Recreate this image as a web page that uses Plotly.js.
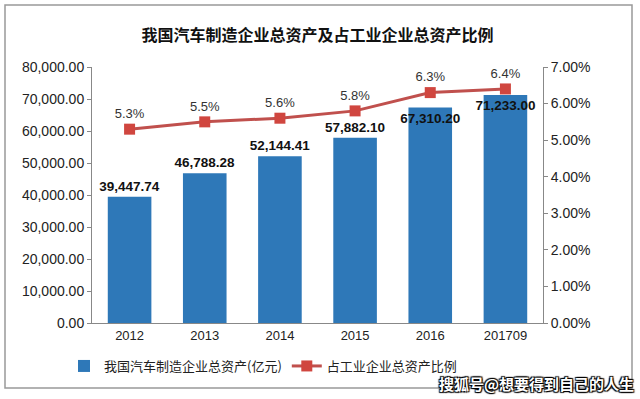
<!DOCTYPE html>
<html>
<head>
<meta charset="utf-8">
<script src="https://cdn.plot.ly/plotly-3.0.1.min.js"></script>
<style>
html,body{margin:0;padding:0;background:#fff;}
#chart{width:640px;height:399px;}
</style>
</head>
<body>
<div id="chart"></div>
<script>
const categories = ["2012", "2013", "2014", "2015", "2016", "201709"];
const totalAssets = [39447.74, 46788.28, 52144.41, 57882.10, 67310.20, 71233.00];
const shareOfIndustry = [0.053, 0.055, 0.056, 0.058, 0.063, 0.064];
const barName = "我国汽车制造企业总资产(亿元)";
const lineName = "占工业企业总资产比例";
const titleText = "我国汽车制造企业总资产及占工业企业总资产比例";
const watermark = "搜狐号@想要得到自己的人生";

const fmtNum = v => v.toLocaleString("en-US", {minimumFractionDigits: 2, maximumFractionDigits: 2});
const fmtPct = v => (v * 100).toFixed(1) + "%";

const font = "Liberation Sans, Arial, sans-serif";
const cjk = "Noto Sans CJK SC, sans-serif";

const L = 92, R = 97, T = 67, B = 76, W = 640, H = 399;
const pw = W - L - R, ph = H - T - B;
const px = x => (x - L) / pw;
const py = y => (H - B - y) / ph;

// last two bar labels sit just inside the bar top (as in the reference)
const barTextPos = ["outside", "outside", "outside", "outside", "inside", "inside"];

const traces = [
  {
    type: "bar",
    x: categories,
    y: totalAssets,
    name: barName,
    marker: {color: "#2E78B8"},
    text: totalAssets.map(fmtNum),
    textposition: barTextPos,
    textangle: 0,
    insidetextanchor: "end",
    constraintext: "none",
    textfont: {family: font, size: 13.5, color: "#111", weight: "bold"},
    insidetextfont: {family: font, size: 13.5, color: "#111", weight: "bold"},
    outsidetextfont: {family: font, size: 13.5, color: "#111", weight: "bold"},
    cliponaxis: false,
    hoverinfo: "skip"
  },
  {
    type: "scatter",
    mode: "lines+markers+text",
    x: categories,
    y: shareOfIndustry,
    yaxis: "y2",
    name: lineName,
    line: {color: "#C0504D", width: 3},
    marker: {symbol: "square", size: 11, color: "#D0463F"},
    text: shareOfIndustry.map(fmtPct),
    textposition: "top center",
    textfont: {family: font, size: 13, color: "#333"},
    cliponaxis: false,
    hoverinfo: "skip"
  }
];

const layout = {
  width: W, height: H,
  margin: {l: L, r: R, t: T, b: B},
  paper_bgcolor: "#fff",
  plot_bgcolor: "#fff",
  showlegend: true,
  bargap: 0.42,
  title: {
    text: titleText,
    font: {family: cjk, size: 16, color: "#111", weight: "bold"},
    x: 0.5, xanchor: "center", xref: "paper",
    y: 1 - 35 / H, yanchor: "middle"
  },
  xaxis: {
    type: "category",
    showline: true, linecolor: "#888", linewidth: 1,
    ticks: "", showgrid: false,
    tickfont: {family: font, size: 13, color: "#222"},
    fixedrange: true
  },
  yaxis: {
    range: [0, 80000], dtick: 10000,
    tickformat: ",.2f",
    showline: true, linecolor: "#888", linewidth: 1,
    ticks: "outside", ticklen: 4, tickcolor: "#888",
    showgrid: false, zeroline: false,
    tickfont: {family: font, size: 14, color: "#222"},
    fixedrange: true
  },
  yaxis2: {
    overlaying: "y", side: "right",
    range: [0, 0.07], dtick: 0.01,
    tickformat: ".2%",
    showline: true, linecolor: "#888", linewidth: 1,
    ticks: "outside", ticklen: 4, tickcolor: "#888",
    showgrid: false, zeroline: false,
    tickfont: {family: font, size: 14, color: "#222"},
    fixedrange: true
  },
  legend: {
    orientation: "h",
    x: px(64), xanchor: "left",
    y: py(366), yanchor: "middle",
    font: {family: cjk, size: 13, color: "#222"},
    itemwidth: 30,
    traceorder: "normal",
    bgcolor: "rgba(0,0,0,0)"
  },
  shapes: [
    {
      type: "rect", xref: "paper", yref: "paper",
      x0: px(5), x1: px(632), y0: py(388), y1: py(5),
      line: {color: "#999", width: 1.5},
      fillcolor: "rgba(0,0,0,0)",
      layer: "below"
    }
  ],
  annotations: [
    {
      text: watermark,
      xref: "paper", yref: "paper",
      x: px(636), xanchor: "right",
      y: py(383), yanchor: "middle",
      showarrow: false,
      font: {family: cjk, size: 15, color: "#fff", weight: "bold", shadow: "1px 1px 1px #000, -1px -1px 1px #000, 1px -1px 1px #000, -1px 1px 1px #000"}
    }
  ]
};

Plotly.newPlot("chart", traces, layout, {displayModeBar: false, staticPlot: true});
</script>
</body>
</html>
